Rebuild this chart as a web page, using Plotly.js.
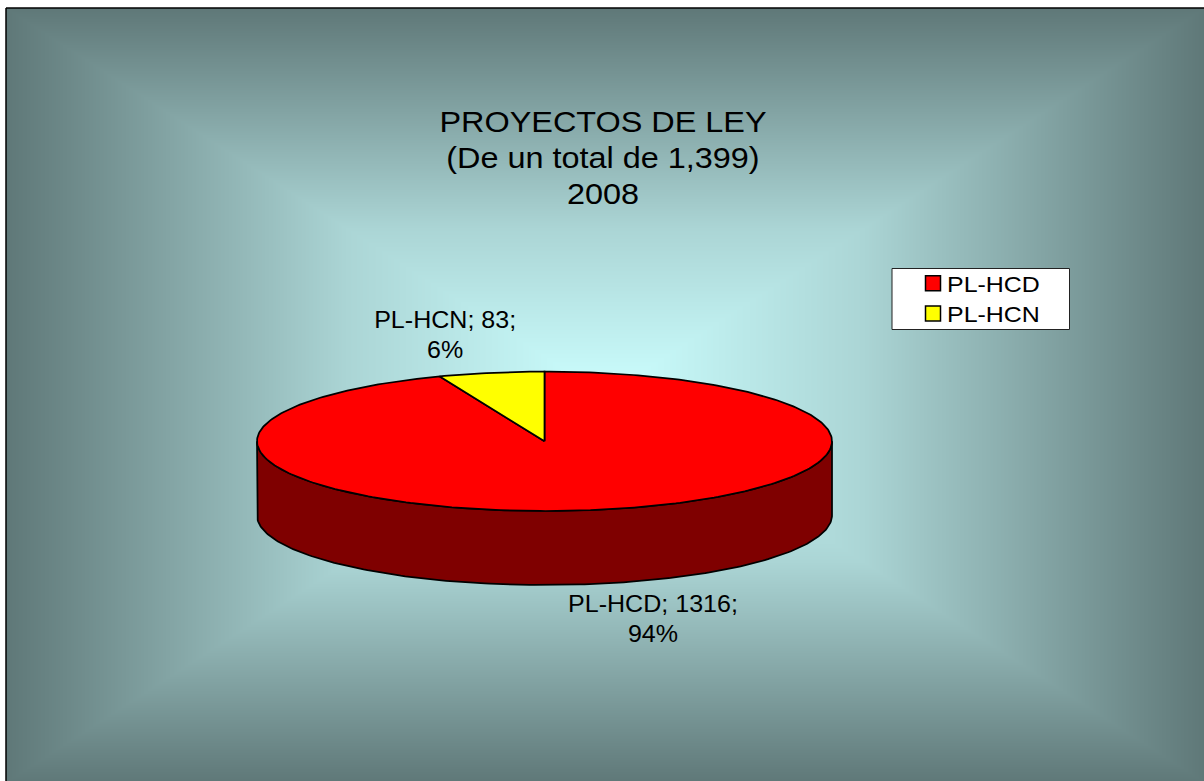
<!DOCTYPE html>
<html>
<head>
<meta charset="utf-8">
<script src="https://cdn.plot.ly/plotly-3.0.1.min.js"></script>
<style>html,body{margin:0;padding:0;background:#fff;overflow:hidden}#chart{width:1204px;height:781px}</style>
</head>
<body>
<div id="chart"></div>
<script>
// Data
const categories = ['PL-HCD', 'PL-HCN'];
const seriesValues = [1316, 83];
const sliceColors = ['#FF0000', '#FFFF00'];
const wallColors = ['#7F0000', '#7F7F00'];
const titleLines = ['PROYECTOS DE LEY', '(De un total de 1,399)', '2008'];

// Geometry of the pie, in axis units
const W = 1204, H = 781;
const cx = 544.5, cy = 441.3, rx = 287.5, ry = 69.7, depth = 74;
const frame = {x: 6, y: 8, w: 1198, h: 774};
const edge = 1.75;

const total = seriesValues.reduce((a, b) => a + b, 0);

function pt(deg, dy) {
  const a = deg * Math.PI / 180;
  return [cx + rx * Math.sin(a), cy - ry * Math.cos(a) + dy];
}
function arc(a0, a1, dy) {
  const n = Math.max(2, Math.ceil(Math.abs(a1 - a0)));
  const out = [];
  for (let i = 0; i <= n; i++) out.push(pt(a0 + (a1 - a0) * i / n, dy));
  return out;
}

const traces = [];
const tops = [];
let start = 0;
seriesValues.forEach((v, i) => {
  const end = start + v / total * 360;
  const w0 = Math.max(start, 90), w1 = Math.min(end, 270);
  if (w1 > w0) {
    const poly = arc(w0, w1, 0).concat(arc(w1, w0, depth));
    poly.push(poly[0]);
    traces.push({
      type: 'scatter', mode: 'lines', x: poly.map(p => p[0]), y: poly.map(p => p[1]),
      fill: 'toself', fillcolor: wallColors[i], line: {color: '#000', width: edge},
      hoverinfo: 'skip', showlegend: false
    });
  }
  const face = [[cx, cy]].concat(arc(start, end, 0));
  face.push([cx, cy]);
  tops.push({
    type: 'scatter', mode: 'lines', x: face.map(p => p[0]), y: face.map(p => p[1]),
    fill: 'toself', fillcolor: sliceColors[i], line: {color: '#000', width: edge},
    hoverinfo: 'skip', showlegend: false
  });
  start = end;
});
traces.push(...tops);

categories.forEach((name, i) => {
  traces.push({
    type: 'scatter', mode: 'markers', x: [null], y: [null], name: name,
    marker: {symbol: 'square', size: 15, color: sliceColors[i], line: {color: '#000', width: 1.5}},
    hoverinfo: 'skip', showlegend: true
  });
});

function label(i) {
  return categories[i] + '; ' + seriesValues[i] + ';<br>' + Math.round(seriesValues[i] / total * 100) + '%';
}

// Rectangular path gradient of the chart area (three colour stops)
function gradient() {
  const c = document.createElement('canvas');
  c.width = frame.w; c.height = frame.h;
  const g = c.getContext('2d');
  const im = g.createImageData(frame.w, frame.h);
  const inner = [204, 255, 255], mid = [171, 213, 213], outer = [95, 120, 120], midT = 0.43;
  for (let y = 0; y < frame.h; y++) {
    for (let x = 0; x < frame.w; x++) {
      const t = Math.max(Math.abs(x - frame.w / 2) / (frame.w / 2), Math.abs(y - frame.h / 2) / (frame.h / 2));
      const k = (x + y * frame.w) * 4;
      for (let j = 0; j < 3; j++) {
        im.data[k + j] = t < midT
          ? inner[j] + (mid[j] - inner[j]) * t / midT
          : mid[j] + (outer[j] - mid[j]) * (t - midT) / (1 - midT);
      }
      im.data[k + 3] = 255;
    }
  }
  g.putImageData(im, 0, 0);
  return c.toDataURL('image/png');
}

const font = 'Liberation Sans, Arial, sans-serif';
const layout = {
  width: W, height: H,
  margin: {l: 0, r: 0, t: 0, b: 0, pad: 0},
  paper_bgcolor: '#fff', plot_bgcolor: 'rgba(0,0,0,0)',
  font: {family: font, color: '#000'},
  title: {
    text: titleLines.join('<br>'), font: {family: font, size: 30, color: '#000'},
    x: 603 / W, xanchor: 'center', y: 1 - 132 / H, yanchor: 'top'
  },
  xaxis: {range: [0, W], visible: false, fixedrange: true},
  yaxis: {range: [H, 0], visible: false, fixedrange: true},
  showlegend: true,
  legend: {
    x: 913 / W, y: 1 - 263 / H, xanchor: 'left', yanchor: 'top',
    bgcolor: 'rgba(0,0,0,0)', borderwidth: 0, entrywidth: 130, entrywidthmode: 'pixels',
    font: {family: font, size: 21, color: '#000'}, tracegroupgap: 0, itemclick: false, itemdoubleclick: false
  },
  images: [{
    source: gradient(), xref: 'paper', yref: 'paper',
    x: frame.x / W, y: 1 - frame.y / H, sizex: frame.w / W, sizey: frame.h / H,
    xanchor: 'left', yanchor: 'top', sizing: 'stretch', layer: 'below'
  }],
  shapes: [
    {type: 'line', xref: 'x', yref: 'y', x0: frame.x, x1: frame.x, y0: frame.y, y1: H, line: {color: '#000', width: 1.5}},
    {type: 'line', xref: 'x', yref: 'y', x0: frame.x, x1: W, y0: frame.y, y1: frame.y, line: {color: '#000', width: 1.5}},
    {type: 'rect', xref: 'x', yref: 'y', x0: 892, x1: 1069.5, y0: 268.5, y1: 329.5, fillcolor: '#fff', line: {color: '#222', width: 1}}
  ],
  annotations: [
    {x: 445, y: 335, xref: 'x', yref: 'y', text: label(1), showarrow: false, font: {family: font, size: 23, color: '#000'}, align: 'center'},
    {x: 652.5, y: 619, xref: 'x', yref: 'y', text: label(0), showarrow: false, font: {family: font, size: 23, color: '#000'}, align: 'center'}
  ]
};

// The reference's text is wider than its height: stretch the real text horizontally
function stretch(el, sx, pivot) {
  const b = el.getBBox();
  const px = pivot !== undefined ? pivot : b.x + b.width / 2;
  const old = el.getAttribute('transform') || '';
  el.setAttribute('transform', old + ' translate(' + px + ',0) scale(' + sx + ',1) translate(' + (-px) + ',0)');
}

Plotly.newPlot('chart', traces, layout, {displayModeBar: false, responsive: false}).then(function () {
  const root = document.getElementById('chart');
  const t = root.querySelector('.gtitle');
  if (t) {
    t.querySelectorAll('tspan.line').forEach((s, i) => s.setAttribute('dy', (i * 36) + 'px'));
    stretch(t, 1.08);
  }
  root.querySelectorAll('.annotation-text').forEach(el => stretch(el, 1.09));
  root.querySelectorAll('.legend, .legend *').forEach(el => {
    el.removeAttribute('clip-path');
    el.style.clipPath = 'none';
  });
  root.querySelectorAll('.legendtext').forEach(el => {
    const x = parseFloat(el.getAttribute('x')) - 6;
    el.setAttribute('x', x);
    el.style.fontSize = '23px';
    el.setAttribute('y', parseFloat(el.getAttribute('y') || 0) + 0.5);
    stretch(el, 1.085, x);
  });
});
</script>
</body>
</html>
